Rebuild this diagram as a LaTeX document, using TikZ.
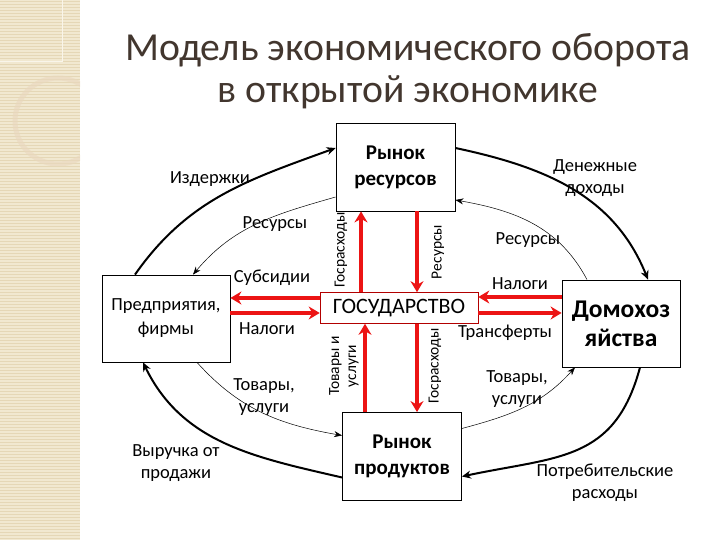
\documentclass[tikz,border=0pt]{standalone}
\usepackage{fontspec}
\setmainfont{Carlito}
\usetikzlibrary{arrows.meta,positioning,calc}

\definecolor{strip}{RGB}{241,232,208}
\definecolor{stripline}{RGB}{229,215,182}
\definecolor{titlecol}{RGB}{66,54,46}
\definecolor{flowred}{RGB}{236,20,20}

\begin{document}
\begin{tikzpicture}[
    x=1pt, y=1pt,
    market/.style={rectangle, draw=black, line width=0.8pt, minimum width=119pt, minimum height=88pt, align=center, font=\bfseries\fontsize{21}{26}\selectfont},
    agent/.style={rectangle, draw=black, line width=0.8pt, minimum width=128pt, minimum height=87pt, align=center, font=\fontsize{18.5}{24}\selectfont},
    govbox/.style={rectangle, draw=red!70!black, line width=0.6pt, minimum width=158pt, minimum height=31pt, inner sep=0pt, font=\fontsize{22}{24}\selectfont},
    house/.style={rectangle, draw=black, line width=0.8pt, minimum width=118pt, minimum height=87pt, align=center, font=\bfseries\fontsize{25.5}{29}\selectfont},
    lbl/.style={align=center, inner sep=0pt, font=\fontsize{18.5}{22}\selectfont},
    vlbl/.style={rotate=90, align=center, inner sep=0pt, font=\fontsize{15.5}{17}\selectfont},
    outer/.style={line width=2pt, ->, >={Stealth[length=9pt,width=8pt]}},
    inner/.style={line width=0.5pt, ->, >={Stealth[length=8pt,width=6pt]}},
    redarrow/.style={line width=3.5pt, ->, >={Stealth[length=11pt,width=13pt]}, flowred}
]
\useasboundingbox (0,0) rectangle (720,540);

% Left decoration strip
\fill[strip] (0,0) rectangle (80,540);
\foreach \y in {1.5,4.5,...,540}
    \draw[stripline, line width=0.7pt] (0,\y) -- (80,\y);
\begin{scope}
    \clip (0,0) rectangle (80,540);
    \draw[white!55!strip, line width=1pt] (0,478) -| (62,540);
    \draw[stripline!70!brown!60!white, line width=5pt, opacity=0.6] (58,419) circle (43);
\end{scope}

% Title
\node[titlecol, align=center, font=\fontsize{39.7}{42}\selectfont] (title) at (408,469)
    {Модель экономического оборота\\в открытой экономике};

% Markets, agents, state
\node[market] (resmkt) at (395.5,373) {Рынок\\ресурсов};
\node[agent] (firms) at (166,221.5) {Предприятия,\\фирмы};
\node[govbox] (gov) at (399,232) {ГОСУДАРСТВО};
\node[house] (house) at (621,216.5) {Домохоз\\яйства};
\node[market] (prodmkt) at (402,83.5) {Рынок\\продуктов};

% Outer circuit
\draw[outer] ([xshift=-31pt]firms.north) to[out=55, in=200] ([yshift=19pt]resmkt.west);
\draw[outer] ([yshift=19pt]resmkt.east) to[out=-12, in=112] ([xshift=27pt]house.north);
\draw[outer] ([xshift=19pt]house.south) to[out=-105, in=12, looseness=1.2] ([yshift=-20pt]prodmkt.east);
\draw[outer] ([yshift=-21pt]prodmkt.west) to[out=167, in=-64] ([xshift=-23pt]firms.south);

% Inner circuit
\draw[inner] ([yshift=-30pt]resmkt.west) to[out=196, in=50] ([xshift=27pt]firms.north);
\draw[inner] ([xshift=-34pt]house.north) to[out=118, in=-10] ([yshift=-33pt]resmkt.east);
\draw[inner] ([xshift=31pt]firms.south) to[out=-48, in=170] ([yshift=21pt]prodmkt.west);
\draw[inner] ([yshift=28pt]prodmkt.east) to[out=15, in=228] ([xshift=-46pt]house.south);

% State flows
\coordinate (gn1) at ([xshift=-38pt]gov.north);
\coordinate (gn2) at ([xshift=18pt]gov.north);
\coordinate (gs1) at ([xshift=-34pt]gov.south);
\coordinate (gs2) at ([xshift=18pt]gov.south);
\coordinate (gw1) at ([yshift=10pt]gov.west);
\coordinate (gw2) at ([yshift=-5pt]gov.west);
\coordinate (ge1) at ([yshift=11pt]gov.east);
\coordinate (ge2) at ([yshift=-5pt]gov.east);

\draw[redarrow] (gn1) -- (gn1 |- resmkt.south);
\draw[redarrow] (gn2 |- resmkt.south) -- (gn2);
\draw[redarrow] (gs1 |- prodmkt.north) -- (gs1);
\draw[redarrow] (gs2) -- (gs2 |- prodmkt.north);
\draw[redarrow] (gw1) -- (gw1 -| firms.east);
\draw[redarrow] (gw2 -| firms.east) -- (gw2);
\draw[redarrow] (ge1 -| house.west) -- (ge1);
\draw[redarrow] (ge2) -- (ge2 -| house.west);

% Labels
\node[lbl] (costs) at (210,361) {Издержки};
\node[lbl] (resl) at (275,316) {Ресурсы};
\node[lbl] (subs) at (272,262) {Субсидии};
\node[lbl] (taxl) at (267,211) {Налоги};
\node[lbl] (goodsl) at (264,143) {Товары,\\услуги};
\node[lbl] (revenue) at (176,77) {Выручка от\\продажи};
\node[lbl] (income) at (595,362) {Денежные\\доходы};
\node[lbl] (resr) at (528,300) {Ресурсы};
\node[lbl] (taxr) at (520,256) {Налоги};
\node[lbl] (transf) at (505,207) {Трансферты};
\node[lbl] (goodsr) at (517,151) {Товары,\\услуги};
\node[lbl] (spend) at (605,57.5) {Потребительские\\расходы};

\node[vlbl] (gexp1) at (341,290) {Госрасходы};
\node[vlbl] (gres) at (438,288) {Ресурсы};
\node[vlbl] (ggoods) at (344,174) {Товары и\\услуги};
\node[vlbl] (gexp2) at (435,174) {Госрасходы};

\end{tikzpicture}
\end{document}
